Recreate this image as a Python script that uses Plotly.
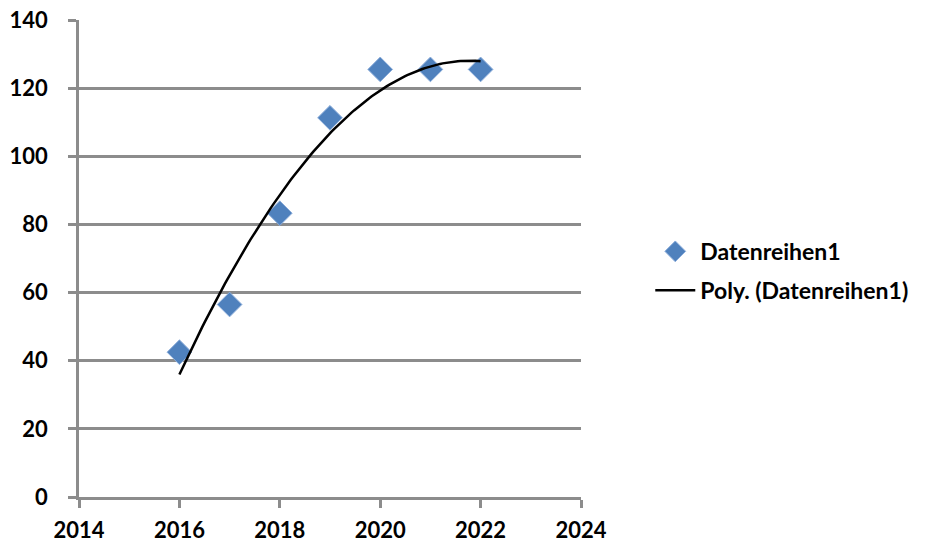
import numpy as np
import plotly.graph_objects as go

years = [2016, 2017, 2018, 2019, 2020, 2021, 2022]
values = [42.5, 56.5, 83.3, 111.3, 125.5, 125.5, 125.5]
series_name = "Datenreihen1"
trend_name = "Poly. (Datenreihen1)"

coef = np.polyfit(years, values, 2)
tx = np.linspace(min(years), max(years), 120)
ty = np.polyval(coef, tx)

fig = go.Figure()
fig.add_trace(go.Scatter(
    x=years, y=values, mode="markers", name=series_name, legendgroup="a",
    marker=dict(symbol="diamond", size=19, color="#4F81BD",
                line=dict(color="#8DAEDB", width=1)),
))
fig.add_trace(go.Scatter(
    x=tx, y=ty, mode="lines", name=trend_name, legendgroup="b",
    line=dict(color="#000000", width=2.5),
))

tf = dict(family="Lato", size=22, color="#000000", weight="bold")
fig.update_layout(
    width=930, height=544,
    margin=dict(l=79, r=349, t=20, b=47),
    paper_bgcolor="white", plot_bgcolor="white",
    font=dict(family="Lato", size=22, color="#000000"),
    showlegend=True,
    legend=dict(x=1.138, y=0.474, xanchor="left", yanchor="middle",
                font=dict(family="Lato", size=23, color="#000000", weight="bold"),
                itemwidth=40, tracegroupgap=6, bgcolor="rgba(0,0,0,0)"),
    xaxis=dict(range=[2014, 2024], dtick=2, tick0=2014, showgrid=False,
               showline=True, linecolor="#8C8C8C", linewidth=2.5,
               ticks="outside", ticklen=8, tickwidth=2.5, tickcolor="#8C8C8C",
               zeroline=False, automargin=False, ticklabelstandoff=4,
               ticklabeloverflow="allow", tickfont=tf),
    yaxis=dict(range=[0, 140.001], dtick=20, showgrid=True, gridcolor="#8C8C8C", gridwidth=2.5,
               showline=True, linecolor="#8C8C8C", linewidth=2.5,
               ticks="outside", ticklen=8, tickwidth=2.5, tickcolor="#8C8C8C",
               zeroline=False, automargin=False, ticklabelstandoff=16,
               ticklabeloverflow="allow", tickfont=tf),
)
fig.write_html("out.html", config={"displayModeBar": False},
               post_script="document.body.style.margin='0';")
